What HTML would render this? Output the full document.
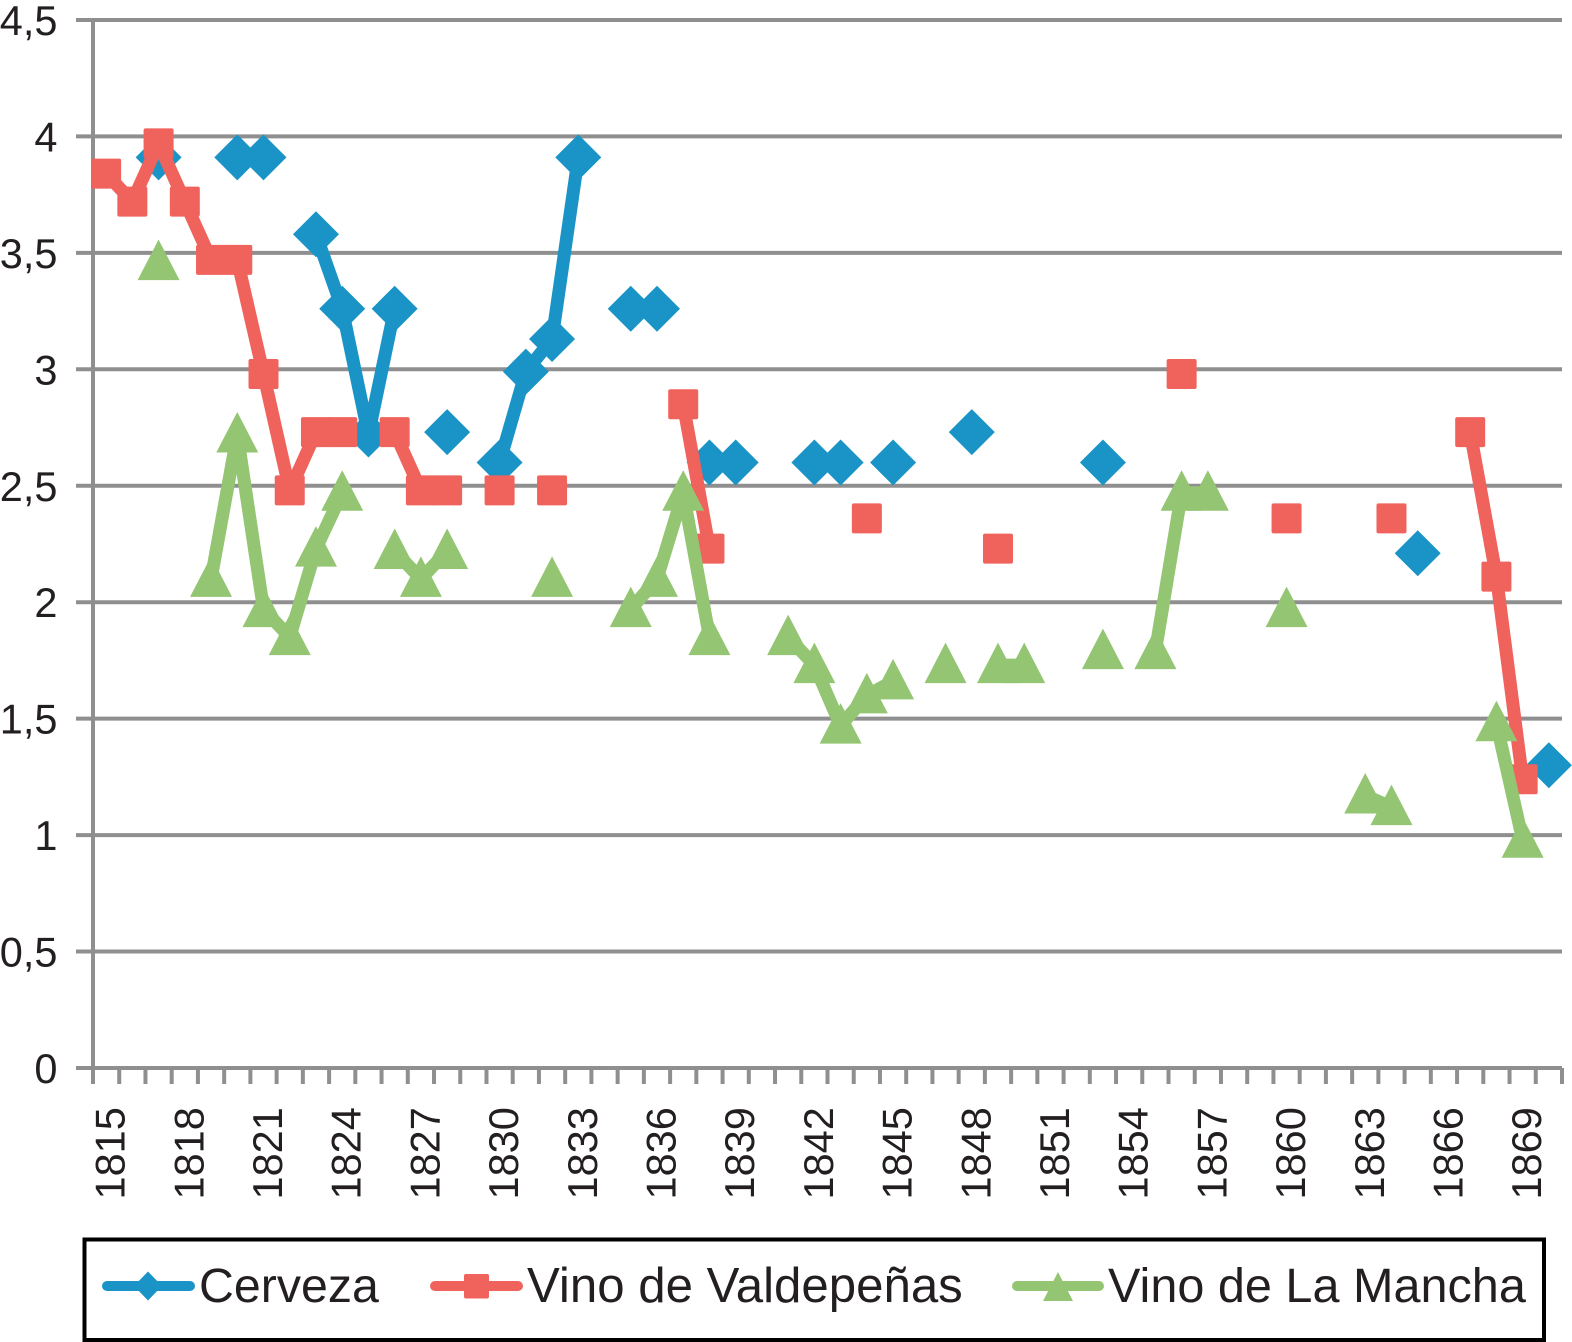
<!DOCTYPE html>
<html lang="es">
<head>
<meta charset="utf-8">
<title>Cerveza y vino, 1815-1870</title>
<style>
html,body{margin:0;padding:0;background:#fff;width:1572px;height:1342px;overflow:hidden}
svg{display:block;font-family:"Liberation Sans",sans-serif}
text{fill:#231f20}
</style>
</head>
<body>
<svg id="chart" xmlns="http://www.w3.org/2000/svg" width="1572" height="1342" viewBox="0 0 1572 1342">
  <rect x="0" y="0" width="1572" height="1342" fill="#fff"/>
  <g id="grid"></g>
  <g id="axes"></g>
  <g id="series"></g>
  <g id="legend">
    <rect x="84.5" y="1239.5" width="1459.5" height="100.5" fill="#fff" stroke="#000" stroke-width="4"/>
    <g>
      <line x1="107" y1="1286" x2="190" y2="1286" stroke="#1a94c6" stroke-width="10" stroke-linecap="round"/>
      <polygon points="148,1271.5 162,1286 148,1300.5 134,1286" fill="#1a94c6"/>
      <text x="199" y="1302" font-size="48.3">Cerveza</text>
    </g>
    <g>
      <line x1="435" y1="1286" x2="518" y2="1286" stroke="#f0625c" stroke-width="10" stroke-linecap="round"/>
      <rect x="464" y="1274" width="25" height="24.5" rx="2" fill="#f0625c"/>
      <text x="527" y="1302" font-size="49.2">Vino de Valdepeñas</text>
    </g>
    <g>
      <line x1="1017" y1="1286" x2="1099" y2="1286" stroke="#93c572" stroke-width="10" stroke-linecap="round"/>
      <polygon points="1058,1272 1073,1301 1043,1301" fill="#93c572"/>
      <text x="1108" y="1302" font-size="48.6">Vino de La Mancha</text>
    </g>
  </g>
</svg>
<script>
var n = null;
var years = [
  1815,1816,1817,1818,1819,1820,1821,1822,1823,1824,
  1825,1826,1827,1828,1829,1830,1831,1832,1833,1834,
  1835,1836,1837,1838,1839,1840,1841,1842,1843,1844,
  1845,1846,1847,1848,1849,1850,1851,1852,1853,1854,
  1855,1856,1857,1858,1859,1860,1861,1862,1863,1864,
  1865,1866,1867,1868,1869,1870
];
var cerveza = [
  n,n,3.91,n,n,
  3.91,3.91,n,3.58,3.26,
  2.72,3.26,n,2.73,n,
  2.6,2.99,3.13,3.91,n,
  3.26,3.26,n,2.6,2.6,
  n,n,2.6,2.6,n,
  2.6,n,n,2.73,n,
  n,n,n,2.6,n,
  n,n,n,n,n,
  n,n,n,n,n,
  2.21,n,n,n,n,
  1.3
];
var valdepenas = [
  3.84,3.72,3.97,3.72,3.47,
  3.47,2.98,2.48,2.73,2.73,
  n,2.73,2.48,2.48,n,
  2.48,n,2.48,n,n,
  n,n,2.85,2.23,n,
  n,n,n,n,2.36,
  n,n,n,n,2.23,
  n,n,n,n,n,
  n,2.98,n,n,n,
  2.36,n,n,n,2.36,
  n,n,2.73,2.11,1.24,
  n
];
var laMancha = [
  n,n,3.46,n,2.1,
  2.72,1.97,1.85,2.23,2.47,
  n,2.22,2.1,2.22,n,
  n,n,2.1,n,n,
  1.97,2.1,2.47,1.85,n,
  n,1.85,1.73,1.47,1.6,
  1.66,n,1.73,n,1.73,
  1.73,n,n,1.79,n,
  1.79,2.47,2.47,n,n,
  1.97,n,n,1.17,1.12,
  n,n,n,1.48,0.98,
  n
];
var yTickValues = [0,0.5,1,1.5,2,2.5,3,3.5,4,4.5];
var yTickLabels = ["0","0,5","1","1,5","2","2,5","3","3,5","4","4,5"];
var xLabelStep = 3;

var NS = "http://www.w3.org/2000/svg";
var plotLeft = 93, plotRight = 1562, plotBottom = 1068, unitHeight = 232.9;
var GRID = "#8f8f8f";
var band = (plotRight - plotLeft) / years.length;
function xAt(i){ return plotLeft + band * (i + 0.5); }
function yAt(v){ return plotBottom - unitHeight * v; }
function make(tag, parent, attrs){
  var el = document.createElementNS(NS, tag);
  for (var k in attrs) el.setAttribute(k, attrs[k]);
  parent.appendChild(el);
  return el;
}
var grid = document.getElementById("grid");
var axes = document.getElementById("axes");
var layer = document.getElementById("series");

yTickValues.forEach(function(v, i){
  var line = make("line", grid, {x1:76, x2:plotRight, y1:yAt(v), y2:yAt(v), stroke:GRID, "stroke-width":4});
  
  
  var t = make("text", axes, {x:57.5, y:yAt(v)+15, "font-size":41.5, "text-anchor":"end"});
  t.textContent = yTickLabels[i];
  
  
});

var yAxis = make("line", axes, {x1:plotLeft, x2:plotLeft, y1:yAt(4.5)-2, y2:plotBottom+16, stroke:GRID, "stroke-width":4});



for (var k = 1; k <= years.length; k++) {
  var tx = plotLeft + band * k;
  var tick = make("line", axes, {x1:tx, x2:tx, y1:plotBottom, y2:plotBottom+16, stroke:GRID, "stroke-width":4});
  
  
}

years.forEach(function(year, i){
  if (i % xLabelStep !== 0) return;
  var bx = xAt(i) + 18.5, by = 1199.5;
  var t = make("text", axes, {x:0, y:0, "font-size":41.5, transform:"translate("+bx+","+by+") rotate(-90)"});
  t.textContent = year;
  
  
});

function drawLines(values, color, group){
  var seg = [];
  function flush(){
    if (seg.length > 1) {
      var p = make("polyline", group, {points:seg.join(" "), fill:"none", stroke:color, "stroke-width":13, "stroke-linejoin":"round"});
      
      
    }
    seg = [];
  }
  values.forEach(function(v, i){
    if (v === null) { flush(); return; }
    seg.push(xAt(i) + "," + yAt(v));
  });
  flush();
}
function drawDiamond(group, x, y, color){
  var m = make("polygon", group, {points:[x,y-23, x+23,y, x,y+23, x-23,y].join(" "), fill:color});
  
  
}
function drawSquare(group, x, y, color){
  var m = make("rect", group, {x:x-15, y:y-15, width:30, height:30, rx:2, fill:color});
  
  
}
function drawTriangle(group, x, y, color){
  var m = make("polygon", group, {points:[x,y-22.5, x+21,y+18, x-21,y+18].join(" "), fill:color});
  
  
}
function drawSeries(name, values, color, marker){
  var g = make("g", layer, {});
  
  
  drawLines(values, color, g);
  values.forEach(function(v, i){
    if (v !== null) marker(g, xAt(i), yAt(v), color);
  });
}
drawSeries("series-cerveza", cerveza, "#1a94c6", drawDiamond);
drawSeries("series-valdepenas", valdepenas, "#f0625c", drawSquare);
drawSeries("series-la-mancha", laMancha, "#93c572", drawTriangle);
</script>
</body>
</html>
